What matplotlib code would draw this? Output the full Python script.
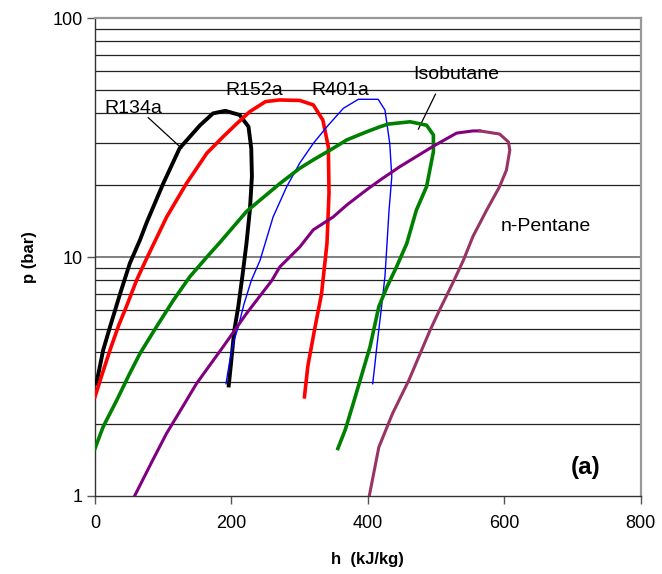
import matplotlib.pyplot as plt
from matplotlib.ticker import FixedLocator, NullFormatter

plt.rcParams['font.family'] = ['Liberation Sans', 'DejaVu Sans']

# saturation domes (h in kJ/kg, p in bar)
r134a_h = [2, 12, 22, 37, 51, 66, 76, 100, 124, 154, 173, 191, 212, 225, 229, 230,
           227, 222, 216, 210, 204, 199, 196]
r134a_p = [2.95, 4.08, 5.1, 7.05, 9.4, 11.8, 14.0, 20.3, 28.5, 35.6, 39.9, 40.9, 39.3,
           35.1, 28.5, 21.7, 15.7, 11.4, 8.3, 6.2, 4.9, 3.5, 2.9]

r152a_h = [0, 10, 22, 35, 46, 61, 76, 105, 134, 164, 188, 208, 227, 250, 270, 300,
           320, 334, 342, 343, 340, 332, 322, 312, 307]
r152a_p = [2.6, 3.2, 4.08, 5.2, 6.2, 8.0, 9.9, 14.7, 20.3, 27.2, 31.9, 36.2, 40.6,
           44.7, 45.4, 45.2, 43.3, 37.4, 28.9, 18.5, 11.4, 7.0, 5.0, 3.5, 2.6]

r401a_h = [192, 197, 203, 210, 218, 229, 242, 261, 281, 300, 320, 340, 364, 386,
           415, 425, 432, 435, 431, 428, 425, 420, 413, 410, 407]
r401a_p = [2.95, 3.6, 4.4, 5.1, 6.3, 7.96, 9.7, 14.7, 19.7, 24.7, 29.9, 35.1, 41.9,
           45.7, 45.7, 41.2, 29.9, 21.7, 15.7, 11.4, 8.3, 6.2, 4.2, 3.5, 2.95]

isob_h = [0, 12, 32, 51, 66, 90, 115, 139, 164, 183, 222, 271, 300, 320, 349, 369,
          398, 418, 430, 462, 486, 496, 496, 486, 471, 457, 442, 428, 416, 403, 380,
          367, 356]
isob_p = [1.58, 1.95, 2.52, 3.26, 3.95, 5.1, 6.6, 8.27, 10, 11.5, 15.5, 20.3, 23.5,
          25.5, 28.5, 30.9, 33.4, 35.1, 36, 36.8, 35.6, 32.4, 27.6, 19.7, 15.7, 11.4,
          9.1, 7.5, 6.2, 4.2, 2.52, 1.9, 1.58]

pent_liq_h = [58, 85, 105, 128, 149, 188, 222, 259, 271, 300, 320, 349, 369, 398,
              418, 447, 496, 530, 554, 564]
pent_liq_p = [1.0, 1.42, 1.83, 2.35, 2.96, 4.22, 5.8, 7.96, 9.1, 11.0, 13, 14.7,
              16.5, 19.1, 21, 23.9, 29.1, 33, 33.7, 33.7]

pent_vap_h = [564, 593, 606, 608, 603, 593, 574, 554, 540, 526, 505, 491, 460, 436,
              416, 402]
pent_vap_p = [33.7, 32.7, 30.3, 28, 23.1, 19.7, 15.7, 12.2, 9.7, 7.96, 6.0, 4.93,
              3.05, 2.21, 1.6, 1.0]

fig = plt.figure(figsize=(6.62, 5.74), dpi=100)
ax = fig.add_axes([0.1435, 0.1359, 0.8245, 0.8327])

ax.set_yscale('log')
ax.set_xlim(0, 800)
ax.set_ylim(1, 100)

# horizontal grid at every decade subdivision
grid_vals = [v * d for d in (1, 10) for v in range(2, 10)]
for g in grid_vals:
    ax.axhline(g, color='#222222', lw=0.9, zorder=1)
for g in (10, 100):
    ax.axhline(g, color='#808080', lw=1.4, zorder=1)

ax.plot(r134a_h, r134a_p, color='black', lw=2.8, zorder=3)
ax.plot(r152a_h, r152a_p, color='#ff0000', lw=2.6, zorder=3)
ax.plot(r401a_h, r401a_p, color='#0000ff', lw=1.0, zorder=3)
ax.plot(isob_h, isob_p, color='#008000', lw=2.6, zorder=3)
ax.plot(pent_liq_h, pent_liq_p, color='#800080', lw=2.2, zorder=3)
ax.plot(pent_vap_h, pent_vap_p, color='#993366', lw=2.2, zorder=3)

fs = 14
ax.text(56, 42, 'R134a', fontsize=fs, ha='center', va='center')
ax.plot([78, 127], [38.3, 28.5], color='black', lw=0.9, zorder=2)
ax.text(234, 49.7, 'R152a', fontsize=fs, ha='center', va='center')
ax.text(359, 49.7, 'R401a', fontsize=fs, ha='center', va='center')
ax.text(530, 58.3, 'Isobutane', fontsize=fs, ha='center', va='center')
ax.plot([499, 474], [48, 34.3], color='black', lw=0.9, zorder=2)
ax.text(661, 13.4, 'n-Pentane', fontsize=fs, ha='center', va='center')
ax.text(719, 1.32, '(a)', fontsize=17.5, fontweight='bold', ha='center', va='center')

ax.set_xticks([0, 200, 400, 600, 800])
ax.yaxis.set_major_locator(FixedLocator([1, 10, 100]))
ax.set_yticklabels(['1', '10', '100'])
ax.yaxis.set_minor_formatter(NullFormatter())
ax.tick_params(axis='y', which='minor', length=0)
ax.tick_params(axis='both', which='major', direction='out', length=6,
               width=1, color='#555555', labelsize=13)
ax.tick_params(axis='x', pad=8)
ax.tick_params(axis='y', pad=3)

for side in ('left', 'bottom'):
    ax.spines[side].set_color('#333333')
    ax.spines[side].set_linewidth(1.0)
for side in ('right', 'top'):
    ax.spines[side].set_color('#999999')
    ax.spines[side].set_linewidth(1.6)

ax.set_xlabel('h  (kJ/kg)', fontsize=12, fontweight='bold', labelpad=14)
ax.set_ylabel('p (bar)', fontsize=12, fontweight='bold', labelpad=11)

fig.savefig('out.png', dpi=100)
